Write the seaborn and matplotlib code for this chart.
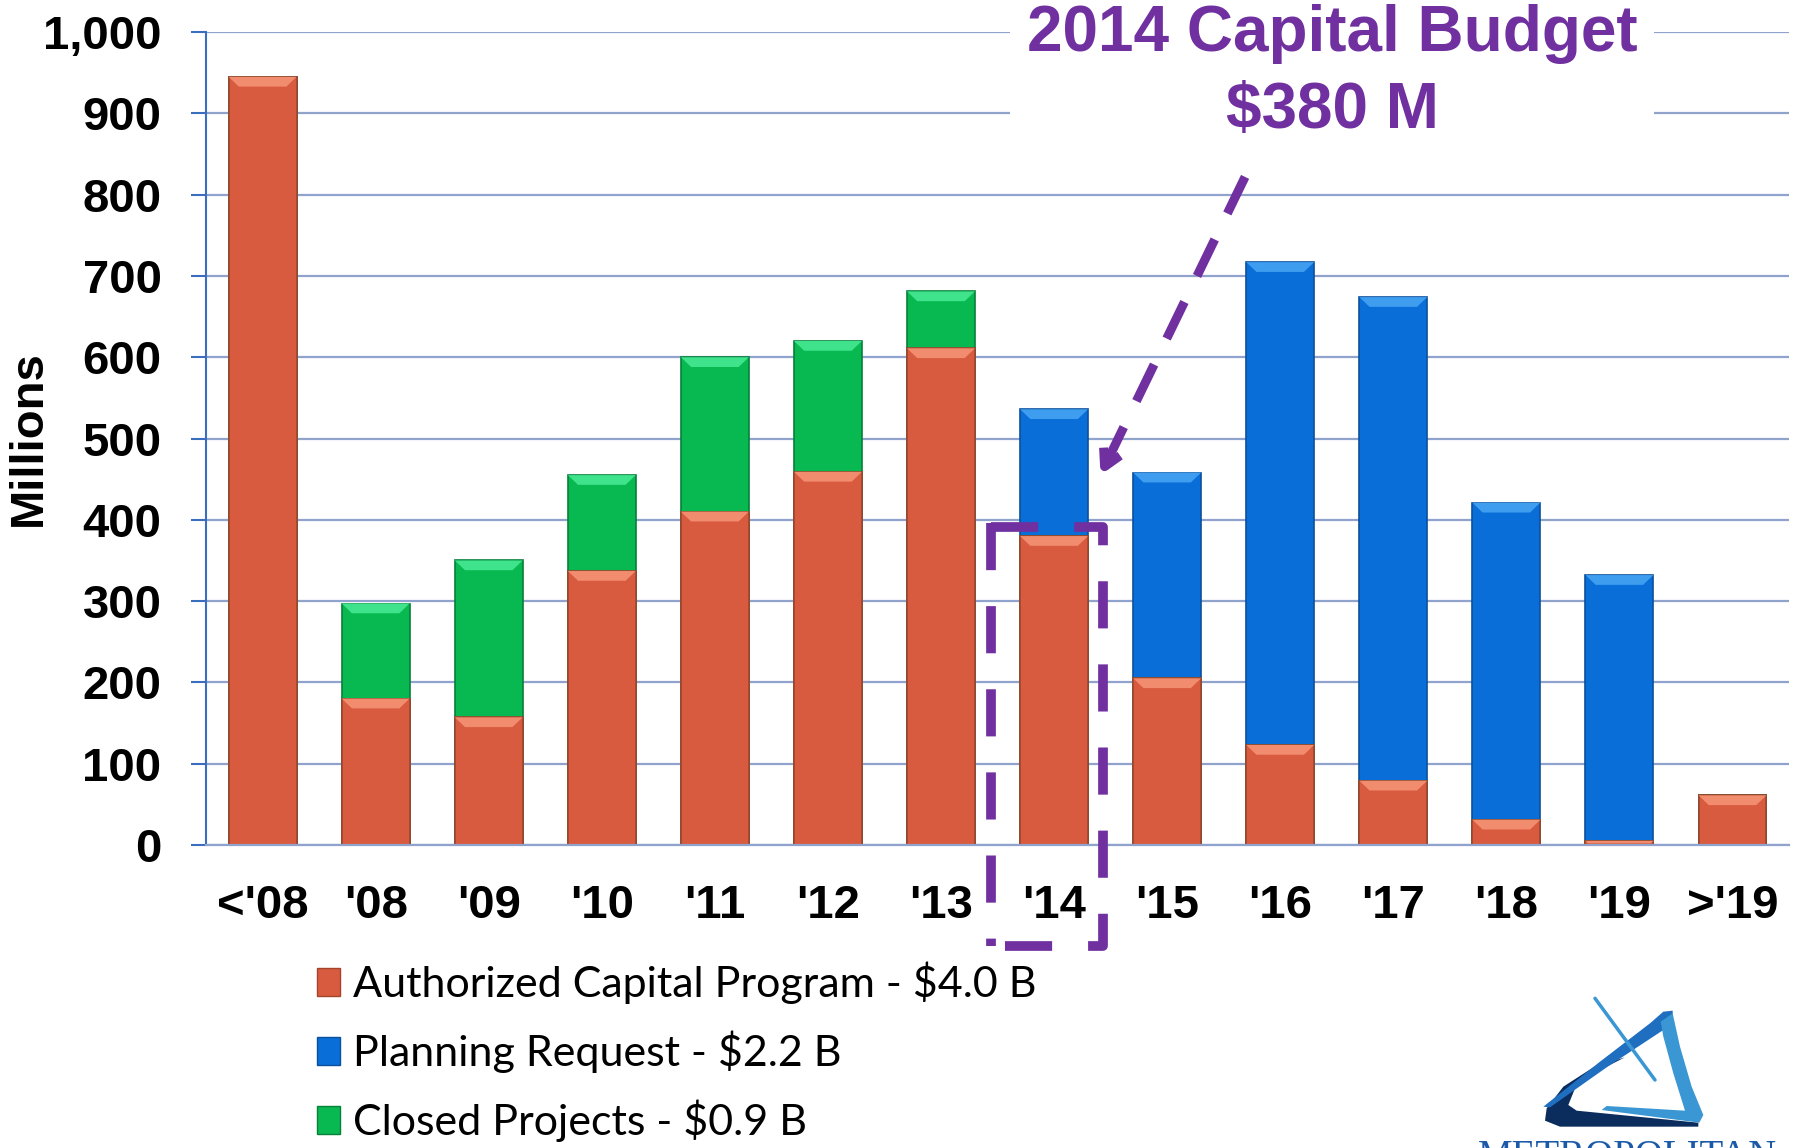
import matplotlib
matplotlib.use("Agg")
import matplotlib.pyplot as plt
import seaborn as sns
import pandas as pd
import numpy as np
from matplotlib.patches import Patch, Polygon
from matplotlib.lines import Line2D

# ---- data ----
categories = ["<'08", "'08", "'09", "'10", "'11", "'12", "'13", "'14",
              "'15", "'16", "'17", "'18", "'19", ">'19"]
authorized = [945, 180, 157, 337, 410, 459, 611, 380, 205, 123, 79, 31, 5, 61]
planning   = [0, 0, 0, 0, 0, 0, 0, 156, 253, 594, 595, 390, 327, 0]
closed     = [0, 117, 193, 118, 190, 161, 70, 0, 0, 0, 0, 0, 0, 0]
legend_labels = ["Authorized Capital Program - $4.0 B",
                 "Planning Request - $2.2 B",
                 "Closed Projects - $0.9 B"]
yticks = [0, 100, 200, 300, 400, 500, 600, 700, 800, 900, 1000]
annot_text = "2014 Capital Budget\n$380 M"
logo_text = "METROPOLITAN"

ORANGE = "#D95B3F"
BLUE = "#0A6ED8"
GREEN = "#08B850"
PURPLE = "#7030A0"
GRID = "#8FA3CC"
AXBLUE = "#3A6FC0"
EDGE = {"o": "#A3442D", "b": "#0A509C", "g": "#06803A"}
LIGHT = {"o": "#F28C6E", "b": "#3F9DF0", "g": "#3FE38C"}

df = pd.DataFrame({"cat": categories, "auth": authorized,
                   "plan": planning, "closed": closed})
df["top_plan"] = df["auth"] + df["plan"]
df["top_closed"] = df["auth"] + df["closed"]

sns.set_theme(style="white")
plt.rcParams["font.family"] = ["Liberation Sans", "DejaVu Sans"]
plt.rcParams["text.color"] = "black"
plt.rcParams["axes.labelcolor"] = "black"
plt.rcParams["xtick.color"] = "black"
plt.rcParams["ytick.color"] = "black"

fig = plt.figure(figsize=(17.98, 11.48), dpi=100)
ax = fig.add_axes([0.1146, 0.264, 0.8804, 0.708])

bar_kw = dict(width=0.6, linewidth=1.2, saturation=1, legend=False, ax=ax,
              order=categories)
sns.barplot(data=df, x="cat", y="top_plan", color=BLUE, edgecolor=EDGE["b"], **bar_kw)
sns.barplot(data=df, x="cat", y="top_closed", color=GREEN, edgecolor=EDGE["g"], **bar_kw)
sns.barplot(data=df, x="cat", y="auth", color=ORANGE, edgecolor=EDGE["o"], **bar_kw)

ax.set_xlim(-0.5, 13.5)
ax.set_ylim(0, 1000)

# bevel highlight on top of each visible segment
seg_values = [("b", planning), ("g", closed), ("o", authorized)]
bev_h = 12.0      # data units
bev_in = 0.09     # category units
for cont, (key, vals) in zip(ax.containers, seg_values):
    for rect, v in zip(cont, vals):
        if v <= 0:
            continue
        x0 = rect.get_x()
        w = rect.get_width()
        top = rect.get_y() + rect.get_height()
        h = min(bev_h, v * 0.6)
        ins = bev_in * h / bev_h
        ax.add_patch(Polygon([(x0, top), (x0 + w, top), (x0 + w - ins, top - h),
                              (x0 + ins, top - h)], closed=True,
                             facecolor=LIGHT[key], edgecolor="none", zorder=2.5))

ax.set_yticks(yticks)
ax.set_yticklabels([f"{v:,}" for v in yticks])
ax.yaxis.grid(True, color=GRID, linewidth=1.6)
ax.set_axisbelow(True)
for s in ["top", "right"]:
    ax.spines[s].set_visible(False)
ax.spines["left"].set_color(AXBLUE)
ax.spines["left"].set_linewidth(1.5)
ax.spines["bottom"].set_color(GRID)
ax.spines["bottom"].set_linewidth(1.6)
ax.tick_params(axis="y", length=11, width=1.5, color=AXBLUE, labelcolor="black",
               pad=21, labelsize=34, direction="out", left=True)
ax.tick_params(axis="x", length=0, pad=28, labelsize=34, labelcolor="black")
for lab in ax.get_xticklabels() + ax.get_yticklabels():
    lab.set_fontweight("bold")
ax.set_xlabel("")
ax.set_ylabel("Millions", fontsize=34, fontweight="bold", color="black")
ax.yaxis.set_label_coords(-0.098, 0.5)

# dashed box around '14
bx0, bx1, by0, by1 = 6.44, 7.43, -124, 391.5
dash = (0, (4.85, 3.7))
box_kw = dict(color=PURPLE, linewidth=7, linestyle=dash, solid_joinstyle="round",
              dash_joinstyle="round", dash_capstyle="butt", clip_on=False, zorder=5)
ax.add_line(Line2D([bx0, bx1, bx1, bx0], [by1, by1, by0, by0], **box_kw))
ax.add_line(Line2D([bx0, bx0], [by1 + 4, by0], **box_kw))

# annotation text with white background
ax.text(9.46, 950, annot_text, ha="center", va="center", fontsize=46,
        fontweight="bold", color=PURPLE, linespacing=1.37, zorder=6,
        bbox=dict(facecolor="white", edgecolor="none", pad=12))
ax.annotate("", xy=(7.40, 452), xytext=(8.70, 825),
            arrowprops=dict(arrowstyle="->,head_length=1.0,head_width=0.55",
                            color=PURPLE, lw=6.5, linestyle=(0, (4.5, 3.2)),
                            capstyle="butt"),
            zorder=6)

# legend
handles = [Patch(facecolor=ORANGE, edgecolor=EDGE["o"]),
           Patch(facecolor=BLUE, edgecolor=EDGE["b"]),
           Patch(facecolor=GREEN, edgecolor=EDGE["g"])]
leg = fig.legend(handles, legend_labels, loc="upper left",
                 bbox_to_anchor=(0.1645, 0.181), frameon=False,
                 prop={"family": "Lato", "size": 31},
                 handlelength=0.52, handleheight=0.62, handletextpad=0.3,
                 labelspacing=0.61, borderpad=0)

# logo (bottom right, partly cut off)
def fp(x, y):
    # logo-crop pixel (3x zoom of region starting at 1450,980) -> figure fraction
    X = 1450 + x / 3.0
    Y = 980 + y / 3.0
    return (X / 1798.0, 1 - Y / 1148.0)

logo_mid = [(280, 380), (450, 245), (600, 130), (640, 95), (668, 92), (668, 120),
            (640, 150), (470, 262), (300, 382)]
logo_light = [(632, 125), (668, 100), (690, 200), (725, 320), (760, 405), (748, 428),
              (455, 390), (470, 378), (705, 392), (670, 280), (640, 170)]
logo_dark = [(525, 232), (440, 275), (375, 325), (355, 375), (380, 392), (745, 428),
             (745, 440), (330, 440), (285, 422), (290, 385), (340, 320), (430, 262)]
for pts, col in [(logo_dark, "#0B2D5E"), (logo_mid, "#1F6EC0"), (logo_light, "#3A97D3")]:
    fig.patches.append(Polygon([fp(*p) for p in pts], closed=True, transform=fig.transFigure,
                               facecolor=col, edgecolor="none"))
p0, p1 = fp(435, 55), fp(615, 300)
fig.lines.append(Line2D([p0[0], p1[0]], [p0[1], p1[1]],
                        transform=fig.transFigure, color="#3A97D3", linewidth=2.5))
tp = fp(85, 478)
fig.text(tp[0], tp[1], logo_text, ha="left", va="top",
         fontsize=28, family="Liberation Serif", color="#1A5AA8")

fig.savefig("out.png", dpi=100)
